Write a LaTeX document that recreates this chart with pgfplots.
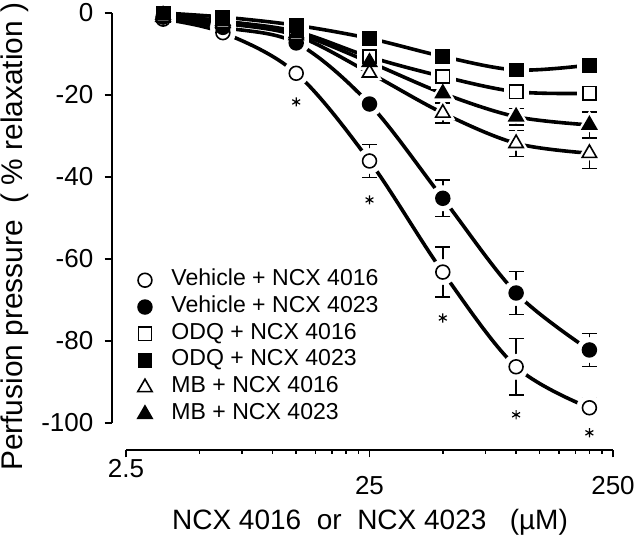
\documentclass[border=0pt]{standalone}
\usepackage{pgfplots}
\usepackage{pgfplotstable}
\pgfplotsset{compat=1.18}
\usepackage{fontspec}
\setmainfont{Liberation Sans}

\pgfplotstableread{
x y e
3.55 -1.5 0.8
6.25 -4.8 1.0
12.5 -14.7 1.0
25 -36.1 4.0
50 -63.2 6.1
100 -86.3 6.9
200 -96.3 2.4
}\vehA
\pgfplotstableread{
x y e
3.55 -1.0 0.8
6.25 -3.5 1.0
12.5 -7.3 1.0
25 -22.2 2.3
50 -45.2 4.5
100 -68.3 5.2
200 -82.2 4.0
}\vehB
\pgfplotstableread{
x y e
3.55 -0.5 0.6
6.25 -2.0 0.8
12.5 -4.5 0.8
25 -10.7 1.0
50 -15.5 1.5
100 -19.2 2.6
200 -19.6 2.0
}\odqA
\pgfplotstableread{
x y e
3.55 0.0 0.5
6.25 -1.0 0.6
12.5 -3.0 0.8
25 -6.2 1.0
50 -10.6 1.0
100 -13.9 1.0
200 -12.7 1.0
}\odqB
\pgfplotstableread{
x y e
3.55 -1.0 0.6
6.25 -2.5 0.8
12.5 -5.5 1.0
25 -14.6 1.5
50 -24.4 2.4
100 -31.8 3.2
200 -34.2 3.7
}\mbA
\pgfplotstableread{
x y e
3.55 -0.5 0.6
6.25 -2.0 0.8
12.5 -5.0 0.8
25 -12.0 1.0
50 -19.6 1.5
100 -25.3 2.0
200 -27.3 3.2
}\mbB
\pgfplotstableread{
x y
12.5 -21.7
25 -45.6
50 -74.4
100 -98.0
200 -102.4
}\stars

\pgfplotsset{
  ln/.style={no markers, black, line width=2.7pt, smooth, tension=0.55, forget plot},
  halo/.style={only marks, white, mark options={fill=white, draw=white}, forget plot},
  mk/.style={only marks, black, line width=1.2pt,
    error bars/y dir=both, error bars/y explicit,
    error bars/error bar style={line width=1.1pt, black},
    error bars/error mark options={rotate=90, mark size=5.6pt, line width=1.1pt, black}},
}

\begin{document}
\begin{tikzpicture}
\path[use as bounding box] (-84pt,-69pt) rectangle (396pt,337.5pt);
\begin{axis}[
  at={(0,0)}, anchor=south west,
  scale only axis, width=375.75pt, height=327.75pt,
  xmode=log, xmin=2.19, xmax=250, ymin=-106.6, ymax=0,
  axis lines*=left, axis line style={draw=none},
  clip=false,
  xtick={25,250}, xticklabels={25,250},
  xticklabel style={yshift=-10.5pt},
  extra x ticks={2.5}, extra x tick labels={2.5},
  extra x tick style={xticklabel style={yshift=12.8pt}},
  minor xtick={5,7.5,10,12.5,15,17.5,20,22.5,50,75,100,125,150,175,200,225},
  ytick={-100,-80,-60,-40,-20,0}, yticklabels={-100,-80,-60,-40,-20,0},
  tick align=outside,
  major tick length=5.5pt, minor tick length=3pt,
  every tick/.style={black, line width=1.1pt},
  ticklabel style={font=\fontsize{19.5}{20}\selectfont},
  yticklabel style={xshift=-5pt},
  xlabel={NCX 4016\ \ or\ \ NCX 4023\ \ \ (µM)},
  ylabel={Perfusion pressure\ \ (\ \% relaxation\ )},
  xlabel style={font=\fontsize{21}{22}\selectfont, at={(axis description cs:0.515,-0.166)}, anchor=center},
  ylabel style={font=\fontsize{22.4}{23}\selectfont, at={(axis description cs:-0.194,0.488)}, anchor=center},
  legend style={at={(axis description cs:0.051,0.412)}, anchor=north west,
    draw=none, fill=none, inner sep=0pt,
    font=\fontsize{17.3}{18}\selectfont,
    nodes={inner sep=0pt, text height=11.5pt, text depth=3.5pt},
    row sep=5.1pt,
    /tikz/every odd column/.append style={column sep=14.5pt}},
  legend cell align=left,
]
% fitted curves
\addplot[ln] table[x=x,y=y] {\vehA};
\addplot[ln] table[x=x,y=y] {\vehB};
\addplot[ln] table[x=x,y=y] {\odqA};
\addplot[ln] table[x=x,y=y] {\odqB};
\addplot[ln] table[x=x,y=y] {\mbA};
\addplot[ln] table[x=x,y=y] {\mbB};
% halos (gaps around markers)
\addplot[halo, mark=*, mark size=9.5pt] table[x=x,y=y] {\vehA};
\addplot[halo, mark=*, mark size=9.5pt] table[x=x,y=y] {\vehB};
\addplot[halo, mark=square*, mark size=9pt] table[x=x,y=y] {\odqA};
\addplot[halo, mark=square*, mark size=9pt] table[x=x,y=y] {\odqB};
\addplot[halo, mark=triangle*, mark size=10.5pt] table[x=x,y=y] {\mbA};
\addplot[halo, mark=triangle*, mark size=10.5pt] table[x=x,y=y] {\mbB};
% asterisks
\addplot[only marks, black, mark=asterisk, mark size=3.4pt, line width=0.9pt, forget plot] table[x=x,y=y] {\stars};
% markers with error bars
\addplot[mk, mark=*, mark size=5.2pt, mark options={fill=white, draw=black}] table[x=x,y=y,y error=e] {\vehA};
\addlegendentry{Vehicle + NCX 4016}
\addplot[mk, mark=*, mark size=5.2pt, mark options={fill=black, draw=black}] table[x=x,y=y,y error=e] {\vehB};
\addlegendentry{Vehicle + NCX 4023}
\addplot[mk, mark=square*, mark size=5.0pt, mark options={fill=white, draw=black}] table[x=x,y=y,y error=e] {\odqA};
\addlegendentry{ODQ + NCX 4016}
\addplot[mk, mark=square*, mark size=5.0pt, mark options={fill=black, draw=black}] table[x=x,y=y,y error=e] {\odqB};
\addlegendentry{ODQ + NCX 4023}
\addplot[mk, mark=triangle*, mark size=6.2pt, mark options={fill=white, draw=black}] table[x=x,y=y,y error=e] {\mbA};
\addlegendentry{MB + NCX 4016}
\addplot[mk, mark=triangle*, mark size=6.2pt, mark options={fill=black, draw=black}] table[x=x,y=y,y error=e] {\mbB};
\addlegendentry{MB + NCX 4023}
% axis lines
\draw[line width=1.2pt] (axis cs:2.5,-106.6) -- (axis cs:250,-106.6);
\draw[line width=1.2pt] (axis cs:2.19,0) -- (axis cs:2.19,-100);
\end{axis}
\end{tikzpicture}
\end{document}
